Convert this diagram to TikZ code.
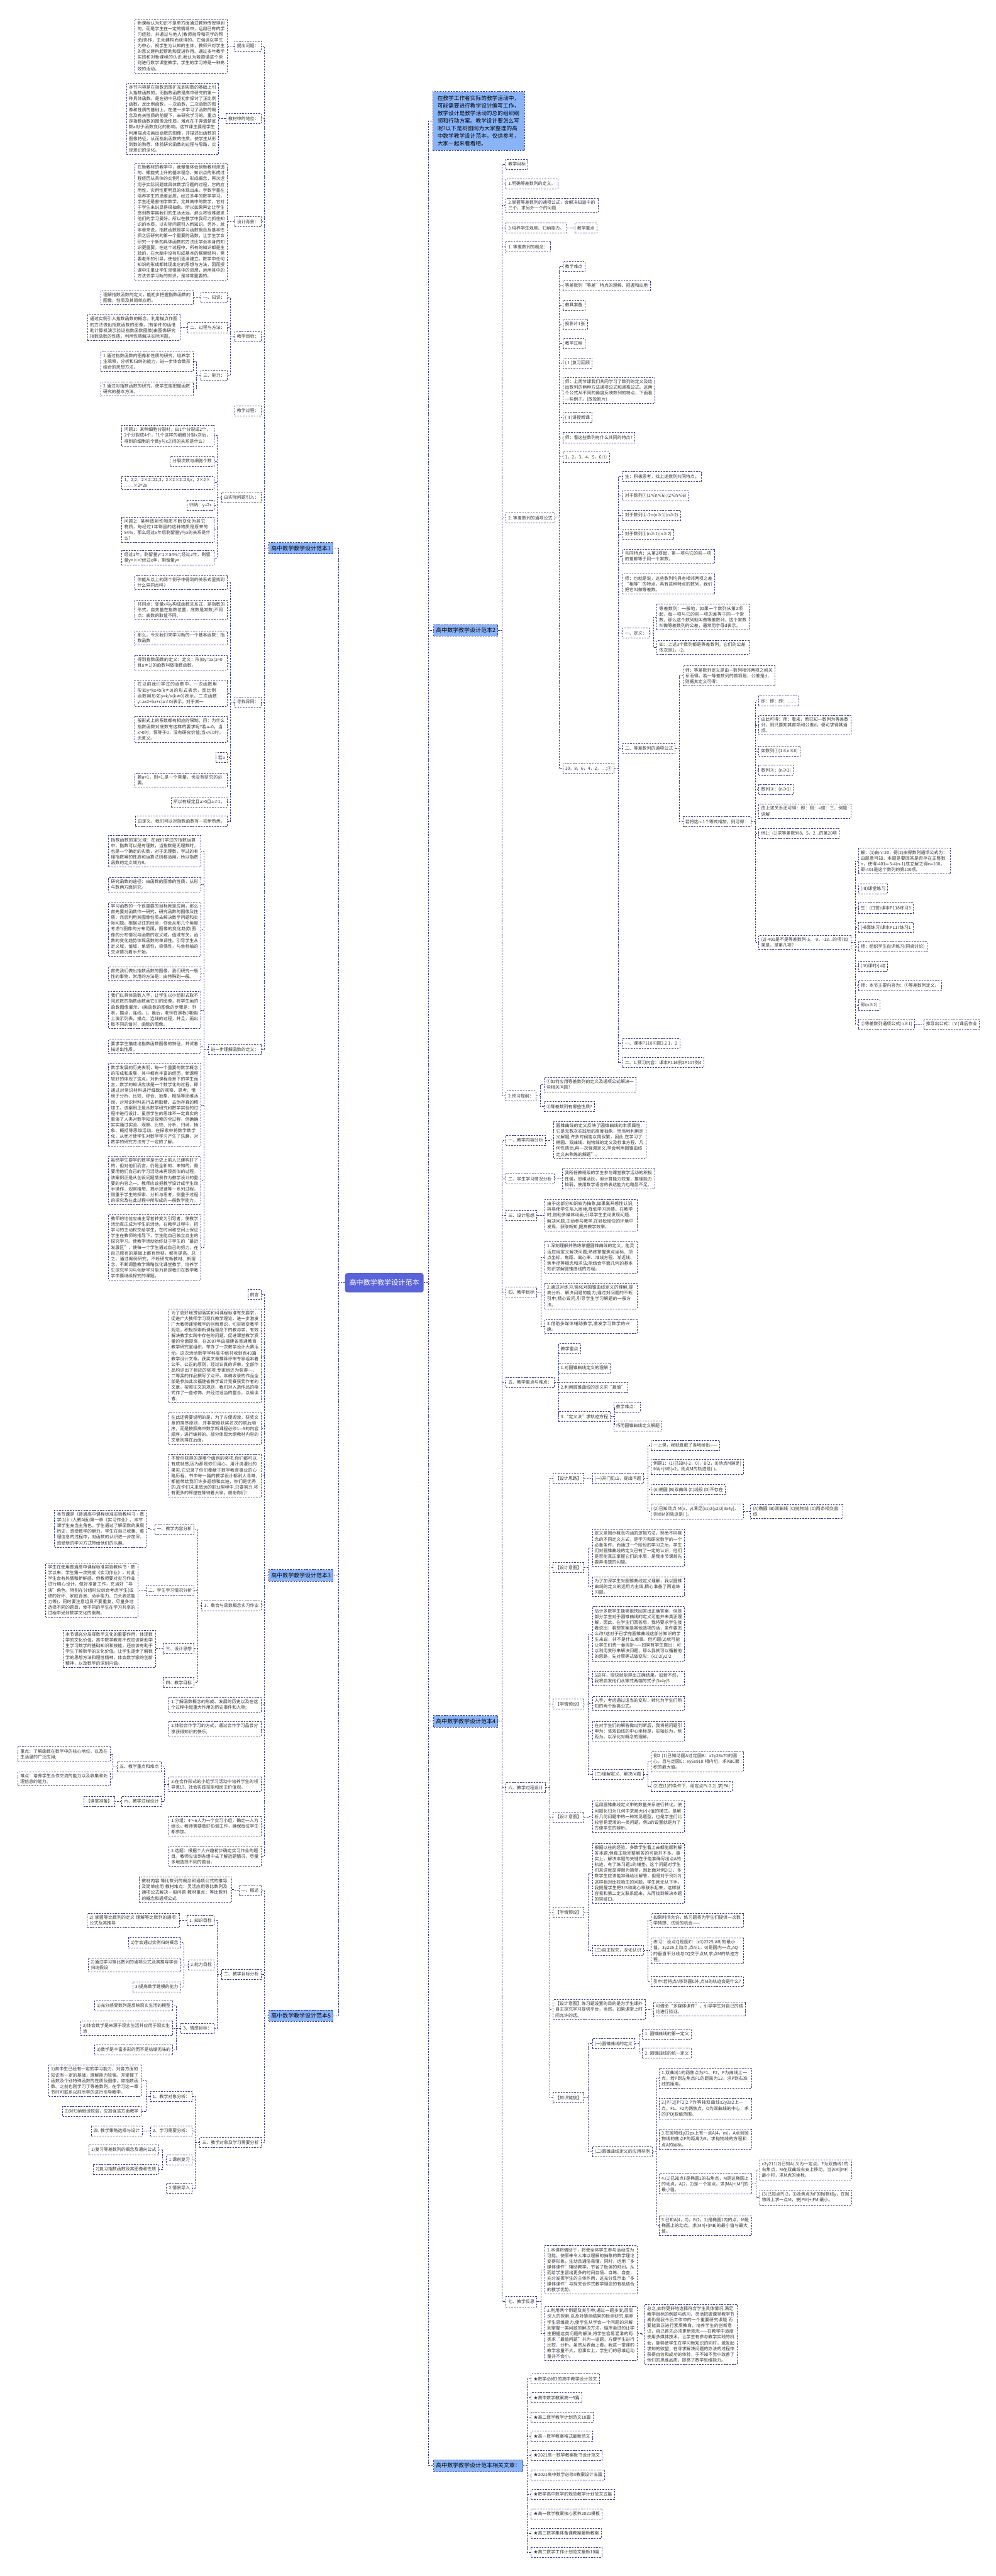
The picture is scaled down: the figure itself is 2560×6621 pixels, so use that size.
\documentclass[tikz,border=0pt]{standalone}
\usepackage{fontspec}
\setmainfont{Noto Sans CJK SC}
\XeTeXlinebreaklocale "zh"
\XeTeXlinebreakskip=0pt plus 1pt
\definecolor{lc}{HTML}{3D3D8F}
\definecolor{tc}{HTML}{333333}
\definecolor{lb}{HTML}{8AB4F8}
\definecolor{cc}{HTML}{5A63D8}
\tikzset{
  base/.style={draw=lc, dash pattern=on 4pt off 3pt, line width=1.4pt, text=tc, inner xsep=6pt, inner ysep=5.5pt, minimum height=26pt},
  sb/.style={base, font=\fontsize{11.2}{14.7}\selectfont, align=left},
  mb/.style={base, font=\fontsize{11.2}{14.7}\selectfont, align=left, text width=#1},
  mb/.default=225pt,
  lvl/.style={base, fill=lb, font=\fontsize{14.5}{18}\selectfont, inner ysep=8pt, inner xsep=6pt, text=black},
  ctr/.style={fill=cc, text=white, font=\fontsize{18}{22}\selectfont, rounded corners=6pt, inner xsep=11pt, minimum height=50pt},
  cn/.style={draw=lc, dash pattern=on 4pt off 3pt, line width=1.4pt},
}
\newcommand\nML[5][225pt]{\node[mb=#1,anchor=east] (#2) at (#3,#4) {#5};}
\newcommand\nSL[4]{\node[sb,anchor=east] (#1) at (#2,#3) {#4};}
\newcommand\nMR[5][225pt]{\node[mb=#1,anchor=west] (#2) at (#3,#4) {#5};}
\newcommand\nSR[4]{\node[sb,anchor=west] (#1) at (#2,#3) {#4};}
\newcommand\cnL[2]{\draw[cn] (#1.west) -- ++(-10.5pt,0) |- (#2.east);}
\newcommand\cnR[2]{\draw[cn] (#1.east) -- ++(10.5pt,0) |- (#2.west);}
\begin{document}
\begin{tikzpicture}[x=1pt,y=-1pt]
\fill[white] (0,0) rectangle (2560,6621);
\useasboundingbox (0,0) rectangle (2560,6621);

% ================= center =================
\node[ctr] (c) at (988,3297) {高中数学教学设计范本};

% ================= 范本1 =================
\node[lvl,anchor=east] (b1) at (857,1409) {高中数学教学设计范本1};
\nSL{a1}{672}{118}{提出问题：}
\nML{a1x}{585}{118}{新课程认为知识不是单方面通过教师传授得到的，而是学生在一定的情境中，运用已有的学习经验，并通过与他人(教师指导和同学的帮助)协作，主动建构而获得的。它强调以学生为中心，视学生为认知的主体，教师只对学生的意义建构起帮助和促进作用。通过多年教学实践和对新课程的认识,我认为若遵循这个原则进行数学课堂教学，学生的学习将是一种高效的活动。}
\nSL{a2}{672}{305}{教材中的地位：}
\nML{a2x}{563}{305}{本节内容是在指数范围扩充到实数的基础上引入指数函数的，而指数函数是高中研究的第一种具体函数。是在初中已经初步探讨了正比例函数，反比例函数，一次函数，二次函数的图像和性质的基础上，在进一步学习了函数的概念及有关性质的前提下，去研究学习的。重点是指数函数的图像及性质，难点在于弄清楚底数a对于函数变化的影响。这节课主要是学生利用描点法画出函数的图像，并描述出函数的图像特征，从而指出函数的性质。使学生从形到数的熟悉，体验研究函数的过程与思路，实现意识的深化。}
\nSL{a3}{672}{570}{设计背景：}
\nML{a3x}{585}{570}{在新教材的教学中，我慢慢体会到新教材渗透的、螺旋式上升的基本理念，知识点的形成过程经历从具体的实例引入，形成概念，再次运用于实际问题或具体数学问题的过程，它的应用性，实用性更明显的体现出来。学数学重在培养学生的思维品质，经过多年的数学学习，学生还是害怕学数学，尤其高中的数学，它对于学生来说显得很抽象。所以如果再让让学生感到数学离我们的生活太远，那么将很难激发他们的学习爱好。所以在教学中我尽力抓住知识的本质，以实际问题引入新知识。另外，就本章来说，指数函数是学习函数概念及基本性质之后研究的第一个重要的函数，让学生学会研究一个新的具体函数的方法比学会本身的知识更重要。在这个过程中，所有的知识都是生疏的，在大脑中没有形成基本的框架结构，需要老师的引导，使他们逐渐建立。数学中任何知识的形成都体现出它的思想与方法，因而授课中注重让学生领悟其中的思想，运用其中的方法去学习新的知识，是非常重要的。}
\nSL{a4}{672}{865}{教学目标：}
\nSL{a41}{585}{765}{一、知识：}
\nML{a41x}{497}{765}{理解指数函数的定义，能初步把握指数函数的图像，性质及其简单应用。}
\nSL{a42}{585}{842}{二、过程与方法：}
\nML{a42x}{463}{842}{通过实例引入指数函数的概念，利用描点作图的方法做出指数函数的图像，(有条件的话借助计算机演示验证指数函数图像)由图像研究指数函数的性质。利用性质解决实际问题。}
\nSL{a43}{585}{965}{三、能力：}
\nML{a43x}{497}{929}{1.通过指数函数的图像和性质的研究，培养学生观察，分析和归纳的能力，进一步体会数形结合的思想方法。}
\nML{a43y}{497}{1000}{2.通过对指数函数的研究，使学生能把握函数研究的基本方法。}
\nSL{a5}{672}{1056}{教学过程：}
\nSL{a6}{672}{1278}{由实际问题引入：}
\nML{a61}{551}{1120}{问题1：某种细胞分裂时，由1个分裂成2个，2个分裂成4个，?1个这样的细胞分裂x次后，得到的细胞的个数y与x之间的关系是什么?}
\nSL{a62}{551}{1185}{分裂次数与细胞个数}
\nML{a63}{551}{1241}{1，2;2，2×2=22;3，2×2×2=23;x，2×2×\\……×2=2x}
\nSL{a64}{551}{1298}{归纳：y=2x}
\nML{a65}{551}{1362}{问题2：某种放射性物质不断变化为其它物质，每经过1年剩留的这种物质是原来的84\%，那么经过x年后剩留量y与x的关系是什么?}
\nML{a66}{551}{1434}{经过1年，剩留量y=1×84\%=;经过2年，剩留量y=×=?经过x年，剩留量y=}
\nSL{a7}{672}{1804}{寻找异同：}
\nML{a71}{585}{1498}{你能从以上的两个例子中得到的关系式里找到什么异同点吗?}
\nML{a72}{585}{1568}{共同点：变量x与y构成函数关系式，是指数的形式，自变量在指数位置，底数是常数;不同点：底数的取值不同。}
\nML{a73}{585}{1640}{那么，今天我们来学习新的一个基本函数：指数函数}
\nML{a74}{585}{1704}{得到指数函数的定义：定义：形如y=ax(a>0且a≠1)的函数叫做指数函数。}
\nML{a75}{585}{1782}{在以前我们学过的函数中，一次函数用形如y=kx+b(k≠0)的形式表示，反比例函数用形如y=k/x(k≠0)表示，二次函数y=ax2+bx+c(a≠0)表示。对于其一}
\nML{a76}{585}{1875}{般形式上的系数都有相应的限制。问：为什么指数函数对底数有这样的要求呢?若a=0，当x>0时，恒等于0，没有研究价值;当x≤0时，无意义。}
\nSL{a77}{585}{1947}{若a}
\nML{a78}{585}{2005}{若a=1，则=1,是一个常量，也没有研究的必要。}
\nSL{a79}{585}{2061}{所以有规定且a>0且a≠1。}
\nSL{a710}{585}{2111}{由定义，我们可以对指数函数有一初步熟悉。}
\nSL{a8}{672}{2697}{进一步理解函数的定义：}
\nML{a81}{517}{2188}{指数函数的定义域：在我们学过的指数运算中，指数可以是有理数，当指数是无理数时，也是一个确定的实数，对于无理数，学过的有理指数幂的性质和运算法则都适用，所以指数函数的定义域为R。}
\nML{a82}{517}{2274}{研究函数的途径：由函数的图像的性质，从形与数两方面研究。}
\nML{a83}{517}{2388}{学习函数的一个很重要的目标就是应用，那么首先要对函数作一研究，研究函数的图像及性质，然后利用其图像性质去解决数学问题和实际问题。根据以往的经验，你会从那几个角度考虑?(图像的分布范围，图像的变化趋势)图像的分布情况与函数的定义域，值域有关，函数的变化趋势体现函数的单调性。引导学生从定义域，值域，单调性，奇偶性，与坐标轴的交点情况着手开始。}
\nML{a84}{517}{2503}{首先我们做出指数函数的图像，我们研究一般性的事物，常用的方法是：由特殊到一般。}
\nML{a85}{517}{2596}{我们以具体函数入手，让学生以小组形式取不同底数的指数函数画它们的图像，将学生画的函数图像展示，(画函数的图像的步骤是：列表，描点，连线。)。最后，老师在黑板(电脑)上演示列表，描点，连线的过程，并且，画出取不同的值时，函数的图像。}
\nML{a86}{517}{2690}{要求学生描述出指数函数图像的特征，并试着描述出性质。}
\nML{a87}{517}{2840}{数学发展的历史表明，每一个重要的数学概念的形成和发展，其中都有丰富的经历，新课程较好的体现了这点。对新课程背景下的学生而言，数学的知识应该是一个数学化的过程，即通过对常识材料进行细致的观察、思考，借助于分析、比较、综合、抽象、概括等思维活动，对常识材料进行去粗取精、去伪存真的精加工。该案例正是从数学研究和数学实验的过程中进行设计。虽然学生的思维不一定真实的重演了人类对数学知识探索的全过程，但确确实实通过实验、观察、比较、分析、归纳、抽象、概括等思维活动，在探索中将数学数学化，从而才使学生对数学学习产生了乐趣，对数学的研究方法有了一定的了解。}
\nML{a88}{517}{3034}{虽然学生要学的数学是历史上前人已建构好了的，但对他们而言，仍是全新的、未知的，需要用他们自己的学习活动来再现类似的过程。该案例正是从创设问题情景作为教学设计的重要的内容之一。教师应该把教学设计成学生动手操作、观察猜想、揭示规律等一系列过程，侧重于学生的探索、分析与思考，侧重于过程的探究及在此过程中所形成的一般数学能力。}
\nML{a89}{517}{3206}{教师的地位应由主导者转变为引导者，使教学活动真正成为学生的活动。在教学过程中，把学习的主动权交给学生，在时间和空间上保证学生在教师的指导下，学生能自己独立自主的探究学习。使教学活动始终处于学生的“最近发展区”，使每一个学生通过自己的努力，在自己原有的基础上都有所获，都有提高。总之，通过案例研究，不断研究新教材、新理念，不断调整教学策略优化课堂教学，培养学生探究学习与创新学习能力将是我们在数学教学中要继续探究的课题。}
\foreach \k in {a1,a2,a3,a4,a5,a6,a7,a8} {\cnL{b1}{\k}}
\cnL{a1}{a1x} \cnL{a2}{a2x} \cnL{a3}{a3x}
\foreach \k in {a41,a42,a43} {\cnL{a4}{\k}}
\cnL{a41}{a41x} \cnL{a42}{a42x} \cnL{a43}{a43x} \cnL{a43}{a43y}
\foreach \k in {a61,a62,a63,a64,a65,a66} {\cnL{a6}{\k}}
\foreach \k in {a71,a72,a73,a74,a75,a76,a77,a78,a79,a710} {\cnL{a7}{\k}}
\foreach \k in {a81,a82,a83,a84,a85,a86,a87,a88,a89} {\cnL{a8}{\k}}

% ================= 范本3 =================
\node[lvl,anchor=east] (b3) at (857,4049) {高中数学教学设计范本3};
\nSL{c1}{672}{3328}{前言}
\nML{c2}{672}{3485}{为了更好地贯彻落实和科课程标准有关要求，促进广大教师学习现代教学理论，进一步激发广大教师课堂教学的创新意识，切实转变教学观念，积极探索新课程理念下的教与学，有效解决教学实践中存在的问题，促进课堂教学质量的全面提高，在2007年由福建省普通教育教学研究室组织，举办了一次教学设计大赛活动。这次活动数学学科高中组共收到有49篇教学设计文章。获奖文章推荐评审专家组本着公平、公正的原则，经过认真的评审，全部作品均评出了相应的奖项;专家组还为获得一、二等奖的作品撰写了点评。本稿收录的作品全部是参加此次福建省教学设计竞赛获奖作者的文章。按照征文的规则，我们对入选作品的格式作了一些修饰，并经过适当的整合，以飨读者。}
\nML{c3}{672}{3672}{在此还需要说明的是，为了方便阅读，获奖文章的排序原则，并非按照获奖名次的前后顺序，而是按照高中数学新课程必修1—5的内容顺序，进行编排的。部分体现大纲教材内容的文章则排在后面。}
\nML{c4}{672}{3793}{不管你获得的是哪个级别的奖项,你们都可以有成就感,因为那是你们用心、用汗浇灌出的果实,它记录了你们奉献于数学教育事业的心路历程，书中每一篇的教学设计都耐人寻味,都能带给我们许多遐想和启迪，你们是优秀的,在你们未来悠远的职业里程中,只要努力,将有更多的辉煌在等待着大家。谢谢你们!}
\nSL{c5}{672}{4127}{1、集合与函数概念实习作业}
\nSL{c51}{500}{3930}{一、教学内容分析}
\nML{c51x}{378}{3929}{本节课是《普通高中课程标准实验教科书·数学(1)》(人教A版)第一章《实习作业》。本节课学生充当主角色，学生通过了解函数的发展历史，感受数学的魅力。学生在自己收集、整理信息的过程中，对函数的认识进一步加深，感受新的学习方式带给他们的乐趣。}
\nSL{c52}{500}{4087}{二、学生学习情况分析}
\nML{c52x}{355}{4087}{学生在使用普通高中课程标准实验教科书·数学以来，学生第一次完成《实习作业》，对此学生会有热情和新鲜感，但教师要对实习作业进行精心设计，做好准备工作，充当好“导演”角色。特别在分组时应综合考虑学生(成绩的好坏、家庭背景、动手能力、口头表达能力等)，同时要注意组员不要重复，尽量多地选择不同的题目，使不同的学生在学习共享的过程中受到数学文化的熏陶。}
\nSL{c53}{500}{4238}{三、设计思想}
\nML{c53x}{400}{4238}{本节课充分发挥数学文化的重要作用，体现数学的文化价值。高中数学教育不仅应该帮助学生学习数学的基础知识和技能，还应该有助于学生了解数学的文化价值。让学生逐步了解数学的思想方法和理性精神，体会数学家的创新精神，以及数学的深刻内涵。}
\nSL{c54}{500}{4325}{四、教学目标}
\nML{c6}{672}{4382}{1.了解函数概念的形成、发展的历史以及在这个过程中起重大作用的历史事件和人物;}
\nML{c7}{672}{4444}{2.体验合作学习的方式，通过合作学习品尝分享获得知识的快乐;}
\nML{c8}{672}{4586}{3.在合作形式的小组学习活动中培养学生的领导意识、社会实践技能和民主价值观。}
\nSL{c81}{415}{4541}{五、教学重点和难点}
\nML{c81x}{284}{4509}{重点：了解函数在数学中的核心地位，以及在生活里的广泛应用;}
\nML{c81y}{284}{4572}{难点：培养学生合作交流的能力以及收集和处理信息的能力。}
\nSL{c82}{415}{4630}{六、教学过程设计}
\nSL{c82x}{295}{4630}{【课堂准备】}
\nML{c9}{672}{4694}{1.分组：4～6人为一个实习小组，确定一人为组长。教师需要做好协调工作，确保每位学生都参加。}
\nML{c10}{672}{4771}{2.选题：根据个人兴趣初步确定实习作业的题目。教师应该到各组中去了解选题情况，尽量多地选择不同的题目。}
\foreach \k in {c1,c2,c3,c4,c5,c6,c7,c8,c9,c10} {\cnL{b3}{\k}}
\foreach \k in {c51,c52,c53,c54} {\cnL{c5}{\k}}
\cnL{c51}{c51x} \cnL{c52}{c52x} \cnL{c53}{c53x}
\cnL{c8}{c81} \cnL{c8}{c82} \cnL{c81}{c81x} \cnL{c81}{c81y} \cnL{c82}{c82x}

% ================= 范本5 =================
\node[lvl,anchor=east] (b5) at (857,5181) {高中数学教学设计范本5};
\nSL{d1}{672}{4858}{一、概述}
\nML{d1x}{596}{4857}{教材内容:等比数列的概念和通项公式的推导及简单应用 教材难点：灵活应用等比数列及通项公式解决一般问题 教材重点：等比数列的概念和通项公式}
\nSL{d2}{672}{5074}{二、教学目标分析}
\nSL{d21}{551}{4936}{1. 知识目标}
\nML{d21x}{462}{4936}{2) 掌握等比数列的定义 理解等比数列的通项公式及其推导}
\nSL{d22}{551}{5050}{2.能力目标}
\nSL{d22a}{465}{4993}{1)学会通过实例归纳概念}
\nML{d22b}{465}{5050}{2)通过学习等比数列的通项公式及其推导学会归纳假设}
\nSL{d22c}{465}{5107}{3)提高数学建模的能力}
\nSL{d23}{551}{5213}{3、情感目标：}
\nSL{d23a}{445}{5156}{1)充分感受数列是反映现实生活的模型}
\nML{d23b}{445}{5213}{2)体会数学是来源于现实生活并应用于现实生活}
\nSL{d23c}{445}{5269}{3)数学是丰富多彩的而不是枯燥无味的}
\nSL{d3}{672}{5507}{三、教学对象及学习需要分析}
\nSL{d31}{495}{5389}{1、教学对象分析：}
\nML{d31a}{363}{5348}{1)高中生已经有一定的学习能力，对各方面的知识有一定的基础，理解能力较强。并掌握了函数及个别特殊函数的性质及图像，如指数函数。之前也刚学习了等差数列，在学习这一章节时可联系以前所学的进行引导教学。}
\nSL{d31b}{363}{5427}{2)对归纳假设较弱，应加强这方面教学}
\nSL{d32}{495}{5477}{2、学习需要分析：}
\nSL{d32a}{366}{5477}{四. 教学策略选择与设计}
\nSL{d33}{495}{5551}{1.课前复习}
\nSL{d33a}{408}{5526}{1)复习等差数列的概念及通向公式}
\nSL{d33b}{408}{5576}{2)复习指数函数及其图像和性质}
\nSL{d34}{495}{5624}{2.情景导入}
\foreach \k in {d1,d2,d3} {\cnL{b5}{\k}}
\cnL{d1}{d1x}
\foreach \k in {d21,d22,d23} {\cnL{d2}{\k}}
\cnL{d21}{d21x}
\foreach \k in {d22a,d22b,d22c} {\cnL{d22}{\k}}
\foreach \k in {d23a,d23b,d23c} {\cnL{d23}{\k}}
\foreach \k in {d31,d32,d33,d34} {\cnL{d3}{\k}}
\cnL{d31}{d31a} \cnL{d31}{d31b} \cnL{d32}{d32a} \cnL{d33}{d33a} \cnL{d33}{d33b}

% ================= right: intro =================
\node[lvl,anchor=west,text width=212pt,align=left,font=\fontsize{14}{19.4}\selectfont,inner xsep=12pt,inner ysep=11pt] (top) at (1112,311) {在教学工作者实际的教学活动中，可能需要进行教学设计编写工作，教学设计是教学活动的总的组织纲领和行动方案。教学设计要怎么写呢?以下是树图网为大家整理的高中数学教学设计范本，仅供参考，大家一起来看看吧。};

% ================= 范本2 =================
\node[lvl,anchor=west] (b2) at (1114,1620) {高中数学教学设计范本2};
\nSR{e1}{1300}{422}{教学目标}
\nSR{e2}{1300}{472}{1.明确等差数列的定义。}
\nMR{e3}{1300}{528}{2.掌握等差数列的通项公式，会解决知道中的三个，求另外一个的问题}
\nSR{e4}{1300}{586}{3.培养学生观察、归纳能力。}
\nSR{e4x}{1477}{586}{教学重点}
\nSR{e5}{1300}{635}{1. 等差数列的概念：}
\nSR{e6}{1300}{1331}{2. 等差数列的通项公式}
\nSR{f1}{1446}{685}{教学难点}
\nSR{f2}{1446}{734}{等差数列“等差”特点的理解、把握和应用}
\nSR{f3}{1446}{784}{教具准备}
\nSR{f4}{1446}{833}{投影片1张}
\nSR{f5}{1446}{883}{教学过程}
\nSR{f6}{1446}{933}{(Ⅰ)复习回顾}
\nMR{f7}{1446}{1004}{师：上两节课我们共同学习了数列的定义及给出数列的两种方法通项公式和递推公式。这两个公式从不同的角度反映数列的特点，下面看一些例子。(放投影片)}
\nSR{f8}{1446}{1073}{(Ⅱ)讲授新课}
\nSR{f9}{1446}{1125}{师：看这些数列有什么共同的特点?}
\nSR{f10}{1446}{1175}{1，2，3，4，5，6;①}
\nSR{f11}{1446}{1975}{10，8，6，4，2，…;②}
\nSR{g1}{1600}{1225}{生：积极思考，找上述数列共同特点。}
\nSR{g2}{1600}{1274}{对于数列①(1≤n≤6);(2≤n≤6)}
\nSR{g3}{1600}{1324}{对于数列②-2n(n≥1)(n≥2)}
\nSR{g4}{1600}{1373}{对于数列③(n≥1)(n≥2)}
\nMR{g5}{1600}{1430}{共同特点：从第2项起，第一项与它的前一项的差都等于同一个常数。}
\nMR{g6}{1600}{1501}{师：也就是说，这些数列均具有相邻两项之差“相等”的特点。具有这种特点的数列，我们把它叫做等差数。}
\nSR{g7}{1600}{1627}{一、定义：}
\nMR{g71}{1688}{1586}{等差数列：一般地，如果一个数列从第2项起，每一项与它的前一项的差等于同一个常数，那么这个数列就叫做等差数列，这个常数叫做等差数列的公差，通常用字母d表示。}
\nMR{g72}{1688}{1664}{如：上述3个数列都是等差数列，它们的公差依次是1，-2。}
\nSR{g8}{1600}{1924}{二、等差数列的通项公式}
\nMR{h1}{1755}{1737}{师：等差数列定义是由一数列相邻两项之间关系而得。若一等差数列的首项是，公差是d，则据其定义可得：}
\nSR{h2}{1755}{2112}{若将这n-1个等式相加，则可得：}
\nSR{i1}{1950}{1802}{即：即：即：……}
\nMR{i2}{1950}{1864}{由此可得：师：看来，若已知一数列为等差数列，则只要知其首项和公差d，便可求得其通项。}
\nSR{i3}{1950}{1930}{如数列①(1≤n≤6)}
\nSR{i4}{1950}{1980}{数列②：(n≥1)}
\nSR{i5}{1950}{2029}{数列③：(n≥1)}
\nMR{i6}{1950}{2085}{由上述关系还可得：即：则：=如：三、例题讲解}
\nSR{i7}{1950}{2142}{例1：(1)求等差数列8，5，2...的第20项}
\nMR{i8}{1950}{2422}{(2)-401是不是等差数列-5，-9，-13...的项?如果是，是第几项?}
\nMR{j1}{2206}{2213}{解：(1)由n=20，得(2)由得数列通项公式为：由题意可知，本题是要回答是否存在正整数n，使得-401=-5-4(n-1)成立解之得n=100，即-401是这个数列的第100项。}
\nSR{j2}{2206}{2284}{(Ⅲ)课堂练习}
\nSR{j3}{2206}{2334}{生：(口答)课本P118练习3}
\nSR{j4}{2206}{2384}{(书面练习)课本P117练习1}
\nSR{j5}{2206}{2433}{师：组织学生自评练习(同桌讨论)}
\nSR{j6}{2206}{2483}{(Ⅳ)课时小结}
\nSR{j7}{2206}{2533}{师：本节主要内容为：①等差数列定义。}
\nSR{j8}{2206}{2583}{即(n≥2)}
\nSR{j9}{2206}{2632}{②等差数列通项公式(n≥1)}
\nSR{j9x}{2374}{2632}{推导出公式：(Ⅴ)课后作业}
\nSR{g9}{1600}{2682}{一、课本P118习题3.2 1，2}
\nSR{g10}{1600}{2731}{二、1.预习内容：课本P116例2P117例4}
\nSR{e7}{1300}{2817}{2.预习提纲：}
\nMR{e71}{1398}{2788}{①如何应用等差数列的定义及通项公式解决一些相关问题?}
\nSR{e72}{1398}{2844}{②等差数列有哪些性质?}
\foreach \k in {e1,e2,e3,e4,e5,e6,e7} {\cnR{b2}{\k}}
\cnR{e4}{e4x}
\foreach \k in {f1,f2,f3,f4,f5,f6,f7,f8,f9,f10,f11} {\cnR{e6}{\k}}
\foreach \k in {g1,g2,g3,g4,g5,g6,g7,g8,g9,g10} {\cnR{f11}{\k}}
\cnR{g7}{g71} \cnR{g7}{g72}
\cnR{g8}{h1} \cnR{g8}{h2}
\foreach \k in {i1,i2,i3,i4,i5,i6,i7,i8} {\cnR{h2}{\k}}
\foreach \k in {j1,j2,j3,j4,j5,j6,j7,j8,j9} {\cnR{i8}{\k}}
\cnR{j9}{j9x}
\cnR{e7}{e71} \cnR{e7}{e72}

% ================= 范本4 =================
\node[lvl,anchor=west] (b4) at (1114,4424) {高中数学教学设计范本4};
\nSR{k1}{1300}{2931}{一、教学内容分析}
\nMR{k1x}{1423}{2930}{圆锥曲线的定义反映了圆锥曲线的本质属性,它是无数次实践后的高度抽象，恰当地利用定义解题,许多时候能以简驭繁，因此,在学习了椭圆、双曲线、抛物线的定义及标准方程、几何性质后,再一次强调定义,学会利用圆锥曲线定义来熟练的解题”。}
\nSR{k2}{1300}{3030}{二、学生学习情况分析}
\nMR{k2x}{1445}{3030}{我所任教班级的学生参与课堂教学活动的积极性强，思维活跃，但计算能力较差，推理能力较弱，使用数学语言的表达能力也略显不足。}
\nSR{k3}{1300}{3124}{三、设计思想}
\nMR{k3x}{1400}{3124}{由于这部分知识较为抽象,如果离开感性认识,容易使学生陷入困境,降低学习热情。在教学时,借助多媒体动画,引导学生主动发现问题、解决问题,主动参与教学,在轻松愉快的环境中发现、获取新知,提高教学效率。}
\nSR{k4}{1300}{3321}{四、教学目标}
\nMR{k4a}{1400}{3232}{1.深刻理解并熟练掌握圆锥曲线的定义，能灵活应用定义解决问题;熟练掌握焦点坐标、顶点坐标、焦距、离心率、准线方程、渐近线、焦半径等概念和求法;能结合平面几何的基本知识求解圆锥曲线的方程。}
\nMR{k4b}{1400}{3331}{2.通过对练习,强化对圆锥曲线定义的理解,提高分析、解决问题的能力;通过对问题的不断引申,精心设问,引导学生学习解题的一般方法。}
\nMR{k4c}{1400}{3410}{3.借助多媒体辅助教学,激发学习数学的兴趣。}
\nSR{k5}{1300}{3553}{五、教学重点与难点：}
\nSR{k5a}{1435}{3467}{教学重点}
\nSR{k5b}{1435}{3516}{1.对圆锥曲线定义的理解}
\nSR{k5c}{1435}{3566}{2.利用圆锥曲线的定义求“最值”}
\nSR{k5d}{1435}{3641}{3.“定义法”求轨迹方程}
\nSR{k5d1}{1577}{3616}{教学难点：}
\nSR{k5d2}{1577}{3665}{巧用圆锥曲线定义解题}
\nSR{k6}{1300}{4595}{六、教学过程设计}
\nSR{m1}{1421}{3800}{【设计思路】}
\nSR{m1x}{1522}{3800}{(一)开门见山，提出问题}
\nSR{m1a}{1673}{3715}{一上课，我就直截了当地给出——}
\nMR{m1b}{1673}{3770}{例题1：(1)已知A(-2，0)，B(2，0)动点M满足|MA|+|MB|=2，则点M的轨迹是( )。}
\nSR{m1c}{1673}{3829}{(A)椭圆 (B)双曲线 (C)线段 (D)不存在}
\nMR{m1d}{1673}{3885}{(2)已知动点 M(x，y)满足(x1)2(y2)2|3x4y|，则点M的轨迹是( )。}
\nMR{m1dx}{1929}{3885}{(A)椭圆 (B)双曲线 (C)抛物线 (D)两条相交直线}
\nSR{m2}{1421}{4029}{【设计意图】}
\nMR{m2a}{1522}{3978}{定义是揭示概念内涵的逻辑方法，熟悉不同概念的不同定义方式，是学习和研究数学的一个必备条件，而通过一个阶段的学习之后，学生们对圆锥曲线的定义已有了一定的认识，他们是否能真正掌握它们的本质，是我本节课首先要弄清楚的问题。}
\nMR{m2b}{1522}{4078}{为了加深学生对圆锥曲线定义理解，我以圆锥曲线的定义的运用为主线,精心准备了两道练习题。}
\nSR{m3}{1421}{4380}{【学情预设】}
\nMR{m3a}{1522}{4200}{估计多数学生能够很快回答出正确答案，但是部分学生对于圆锥曲线的定义可能并未真正理解，因此，在学生们回答后，我将要求学生接着说出：若想答案是其他选项的话，条件要怎么改?这对于已学完圆锥曲线这部分知识的学生来说，并不是什么难事。但问题(2)就可能让学生们费一番周折——如果有学生提出：可以利用变形来解决问题，那么我就可以循着他的思路，先对原等式做变形：(x1)2(y2)2}
\nMR{m3b}{1522}{4314}{5这样，很快就能得出正确结果。如若不然，我将启发他们从等式两端的式子|3x4y|5}
\nMR{m3c}{1522}{4378}{入手，考虑通过适当的变形，转化为学生们熟知的两个距离公式。}
\nMR{m3d}{1522}{4450}{在对学生们的解答做出判断后，我将把问题引申为：该双曲线的中心坐标是，实轴长为，焦距为。以深化对概念的理解。}
\nSR{m3e}{1522}{4560}{(二)理解定义、解决问题}
\nMR{m3e1}{1673}{4528}{例2 (1)已知动圆A过定圆B：x2y26x70的圆心，且与定圆C：xy6x910 相内切，求ABC面积的最大值。}
\nSR{m3e2}{1673}{4592}{(2)在(1)的条件下，给定点P(-2,2),求|PA|}
\nSR{m4}{1421}{4670}{【设计意图】}
\nMR{m4x}{1522}{4669}{运用圆锥曲线定义中的数量关系进行转化，使问题化归为几何中求最大(小)值的模式，是解析几何问题中的一种常见题型，也是学生们比较容易混淆的一类问题。例2的设置就是为了方便学生的辨析。}
\nSR{m5}{1421}{4915}{【学情预设】}
\nMR{m5a}{1522}{4815}{根据以往的经验，多数学生看上去都能顺利解答本题,但真正能完整解答的可能并不多。事实上，解决本题的关键在于能准确写出点A的轨迹，有了练习题1的铺垫，这个问题对学生们来讲就显得颇为简单，因此面对例2(1)，多数学生应该能准确给出解答，但是对于例2(2)这样相对比较陌生的问题，学生就无从下手。我提醒学生把3/5和离心率联系起来，这样就容易和第二定义联系起来，从而找到解决本题的突破口。}
\nSR{m5b}{1522}{5013}{(三)自主探究，深化认识}
\nMR{m5b1}{1673}{4936}{如果时间允许，练习题将为学生们提供一次数学猜想、试验的机会——}
\nMR{m5b2}{1673}{5014}{练习：设点Q是圆C：(x1)2225|AB|的最小值，3y225上动点,点A(1，0)是圆内一点,AQ的垂直平分线与CQ交于点M,求点M的轨迹方程。}
\nMR{m5b3}{1673}{5093}{引申:若将点A移到圆C外,点M的轨迹会是什么?}
\nMR{m6}{1421}{5165}{【设计意图】练习题设置的目的是为学生课外自主探究学习提供平台，当然，如果课堂上时间允许的话。}
\nMR{m6x}{1679}{5164}{可借助“多媒体课件”，引导学生对自己的结论进行验证。}
\nSR{m7}{1421}{5392}{【知识链接】}
\nSR{m7a}{1522}{5253}{(一)圆锥曲线的定义}
\nSR{m7a1}{1651}{5228}{1. 圆锥曲线的第一定义}
\nSR{m7a2}{1651}{5277}{2. 圆锥曲线的统一定义}
\nSR{m7b}{1522}{5530}{(二)圆锥曲线定义的应用举例}
\nMR{m7b1}{1694}{5342}{1.双曲线1的两焦点为F1、F2，P为曲线上一点，若P到左焦点F1的距离为12，求P到右准线的距离。}
\nMR{m7b2}{1694}{5420}{2.|PF1||PF2|2.P为等轴双曲线x2y2a2上一点，F1、F2为两焦点，O为双曲线的中心，求的|PO|取值范围。}
\nMR{m7b3}{1694}{5498}{3.在抛物线y22px上有一点A(4，m)，A点到抛物线的焦点F的距离为5，求抛物线的方程和点A的坐标。}
\nMR{m7b4}{1694}{5613}{4.(1)已知点F是椭圆1的右焦点，M是这椭圆上的动点，A(2，2)是一个定点，求|MA|+|MF|的最小值。}
\nMR{m7b4a}{1952}{5577}{x2y211(2)已知A(,3)为一定点，F为双曲线1的右焦点，M在双曲线右支上移动，当|AM||MF|最小时，求M点的坐标。}
\nMR{m7b4b}{1952}{5648}{(3)已知点P(-2，3)及焦点为F的抛物线y，在抛物线上求一点M，使|PM|+|FM|最小。}
\nMR{m7b5}{1694}{5720}{5.已知A(4，0)，B(2，2)是椭圆1内的点，M是椭圆上的动点，求|MA|+|MB|的最小值与最大值。}
\nSR{k7}{1300}{5916}{七、教学反思}
\nMR{k7a}{1400}{5834}{1.本课将借助于，将使全体学生参与活动成为可能，使原来令人难以理解的抽象的数学理论变得形象，生动且通俗易懂，同时，运用“多媒体课件”辅助教学，节省了板演的时间，从而给学生留出更多的时间自悟、自练、自查，充分发挥学生的主体作用，这充分显示出“多媒体课件”与探究合作式教学理念的有机结合的教学优势。}
\nMR{k7b}{1400}{5998}{2.利用两个例题及其引申,通过一题多变,层层深入的探索,以及对猜测结果的检测研究,培养学生思维能力,使学生从学会一个问题的求解到掌握一类问题的解决方法，循序渐进的让学生把握这类问题的解法;将学生容易混淆的两类求“最值问题”并为一道题，方便学生进行比较、分析。虽然从表面上看，我这一堂课的教学容量不大，但事实上，学生们的思维运动量并不会小。}
\nMR{k7bx}{1657}{6000}{总之,如何更好地选择符合学生具体情况,满足教学目标的例题与练习、灵活把握课堂教学节奏仍是我今后工作中的一个重要研究课题.而要能真正进行素质教育，培养学生的创新意识，自己首先必须更新观念——在教学中适度使用多媒体技术，让学生有参与教学实践的机会，能够使学生在学习新知识的同时，激发起求知的欲望，在寻求解决问题的办法的过程中获得自信和成功的体验，于不知不觉中改善了他们的思维品质，提高了数学思维能力。}
\foreach \k in {k1,k2,k3,k4,k5,k6,k7} {\cnR{b4}{\k}}
\cnR{k1}{k1x} \cnR{k2}{k2x} \cnR{k3}{k3x}
\foreach \k in {k4a,k4b,k4c} {\cnR{k4}{\k}}
\foreach \k in {k5a,k5b,k5c,k5d} {\cnR{k5}{\k}}
\cnR{k5d}{k5d1} \cnR{k5d}{k5d2}
\foreach \k in {m1,m2,m3,m4,m5,m6,m7} {\cnR{k6}{\k}}
\cnR{m1}{m1x}
\foreach \k in {m1a,m1b,m1c,m1d} {\cnR{m1x}{\k}}
\cnR{m1d}{m1dx}
\cnR{m2}{m2a} \cnR{m2}{m2b}
\foreach \k in {m3a,m3b,m3c,m3d,m3e} {\cnR{m3}{\k}}
\cnR{m3e}{m3e1} \cnR{m3e}{m3e2}
\cnR{m4}{m4x}
\cnR{m5}{m5a} \cnR{m5}{m5b}
\foreach \k in {m5b1,m5b2,m5b3} {\cnR{m5b}{\k}}
\cnR{m6}{m6x}
\cnR{m7}{m7a} \cnR{m7}{m7b}
\cnR{m7a}{m7a1} \cnR{m7a}{m7a2}
\foreach \k in {m7b1,m7b2,m7b3,m7b4,m7b5} {\cnR{m7b}{\k}}
\cnR{m7b4}{m7b4a} \cnR{m7b4}{m7b4b}
\cnR{k7}{k7a} \cnR{k7}{k7b} \cnR{k7b}{k7bx}

% ================= 相关文章 =================
\node[lvl,anchor=west] (b6) at (1114,6337) {高中数学教学设计范本相关文章：};
\nSR{n1}{1365}{6114}{★数学必修2的高中教学设计范文}
\nSR{n2}{1365}{6163}{★高中数学教案高一5篇}
\nSR{n3}{1365}{6213}{★高二数学教学计划范文10篇}
\nSR{n4}{1365}{6262}{★高一数学教案格式最新范文}
\nSR{n5}{1365}{6311}{★2021高一数学教案板书设计范文}
\nSR{n6}{1365}{6361}{★2021高中数学必修3教案设计五篇}
\nSR{n7}{1365}{6411}{★数学高中数学的规范教学计划范文五篇}
\nSR{n8}{1365}{6461}{★高一数学教案核心素养2021模板}
\nSR{n9}{1365}{6511}{★高三数学集体备课教案最新教案}
\nSR{n10}{1365}{6560}{★高二数学工作计划范文最新10篇}
\foreach \k in {n1,n2,n3,n4,n5,n6,n7,n8,n9,n10} {\cnR{b6}{\k}}

% ================= main connectors =================
\foreach \k in {b1,b3,b5} {\draw[cn] (c.west) -- ++(-17pt,0) |- (\k.east);}
\foreach \k in {top,b2,b4,b6} {\draw[cn] (c.east) -- ++(13pt,0) |- (\k.west);}
\end{tikzpicture}
\end{document}
